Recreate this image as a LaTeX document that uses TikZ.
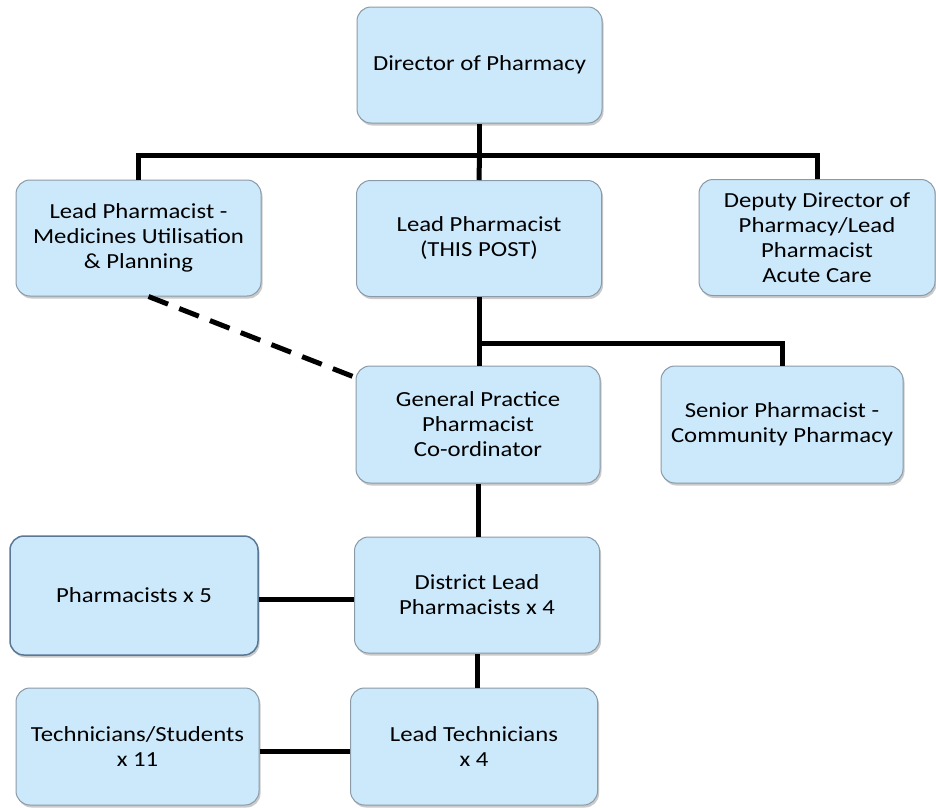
\documentclass[tikz,border=0pt]{standalone}
\usepackage{fontspec}
\setmainfont[FakeStretch=1.15]{Carlito}
\usetikzlibrary{shadows}
\definecolor{boxfill}{HTML}{CCE9FB}
\definecolor{boxline}{HTML}{8A9AA8}
\definecolor{boxblue}{HTML}{5A7896}
\tikzset{
  orgbox/.style={draw=boxline, line width=1pt, fill=boxfill, rounded corners=14pt,
    minimum width=245pt, minimum height=116pt, align=center, inner sep=4pt,
    font=\fontsize{21.5}{25}\selectfont,
    drop shadow={shadow xshift=1.5pt, shadow yshift=-2.5pt, opacity=0.35, fill=black!60}},
  link/.style={line width=5pt, draw=black},
  dotlink/.style={line width=5pt, draw=black, dash pattern=on 21pt off 12pt},
}
\begin{document}
\begin{tikzpicture}[x=1pt,y=-1pt]
\useasboundingbox (0,0) rectangle (936,807);
\node[orgbox] (dir) at (479.5,65) {Director of Pharmacy};
\node[orgbox] (lpmu) at (138.5,238) {Lead Pharmacist -\\Medicines Utilisation\\\& Planning};
\node[orgbox] (lp) at (479,238.5) {Lead Pharmacist\\(THIS POST)};
\node[orgbox, minimum width=236pt] (dep) at (817,237.5) {Deputy Director of\\Pharmacy/Lead\\Pharmacist\\Acute Care};
\node[orgbox, minimum width=244pt, minimum height=117pt] (gp) at (478,424.5) {General Practice\\Pharmacist\\Co-ordinator};
\node[orgbox, minimum width=242pt, minimum height=117pt] (sen) at (782,424.5) {Senior Pharmacist -\\Community Pharmacy};
\node[orgbox, draw=boxblue, line width=1.5pt, minimum width=248pt, minimum height=119pt] (ph5) at (134,595.5) {Pharmacists x 5};
\node[orgbox] (dlp) at (477,595) {District Lead\\Pharmacists x 4};
\node[orgbox, minimum width=243pt, minimum height=117pt] (tech) at (137.5,746.5) {Technicians/Students\\x 11};
\node[orgbox, minimum width=247pt, minimum height=117pt] (lt) at (474,746.5) {Lead Technicians\\x 4};
% top tier
\coordinate (b1) at (479.5,155);
\draw[link] (dir.south) -- (b1);
\draw[link] (lpmu.north) |- (b1) -| (dep.north);
\draw[link] (b1) -- (lp.north);
% second tier
\coordinate (b2) at (479,343);
\draw[link] (lp.south) -- (b2) -- (lp.south |- gp.north);
\draw[link] (b2) -| (sen.north);
% dashed
\draw[dotlink] ([xshift=10pt]lpmu.south) -- ([yshift=-12pt]gp.north west);
% lower
\draw[link] (gp.south) -- (gp.south |- dlp.north);
\draw[link] ([yshift=-4pt]ph5.east) -- ([yshift=-4pt]ph5.east -| dlp.west);
\draw[link] (dlp.south) -- (dlp.south |- lt.north);
\draw[link] ([yshift=-5pt]tech.east) -- ([yshift=-5pt]tech.east -| lt.west);
\end{tikzpicture}
\end{document}
